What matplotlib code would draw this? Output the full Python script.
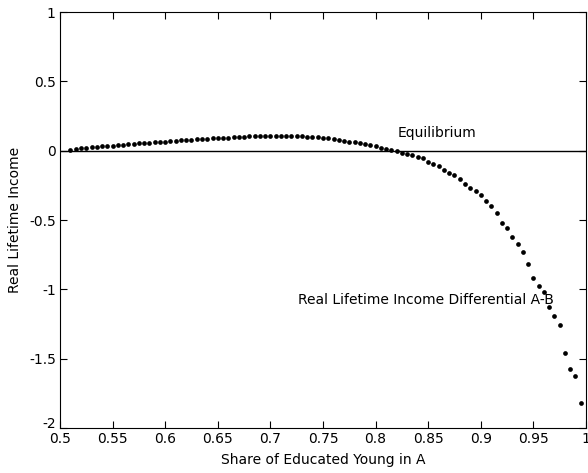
import matplotlib
matplotlib.use("Agg")
import matplotlib.pyplot as plt
from matplotlib.ticker import FormatStrFormatter
import numpy as np

plt.rcParams["font.family"] = ["DejaVu Sans"]
plt.rcParams["axes.unicode_minus"] = False

# share of educated young in A (step 0.005)
share = np.round(np.arange(0.51, 0.9951, 0.005), 3)

# income differential A-B
diff = [
    0.008, 0.015, 0.018, 0.022, 0.025, 0.028, 0.032, 0.034, 0.037, 0.041,
    0.043, 0.046, 0.049, 0.052, 0.054, 0.057, 0.061, 0.063, 0.066, 0.068,
    0.072, 0.075, 0.077, 0.080, 0.082, 0.085, 0.086, 0.089, 0.091, 0.093,
    0.095, 0.097, 0.099, 0.101, 0.103, 0.104, 0.106, 0.107, 0.108, 0.108,
    0.108, 0.108, 0.107, 0.106, 0.104, 0.102, 0.099, 0.096, 0.092, 0.088,
    0.083, 0.078, 0.072, 0.066, 0.060, 0.053, 0.046, 0.039, 0.031, 0.023,
    0.014, 0.006, -0.003, -0.013, -0.023, -0.033, -0.044,
    -0.055, -0.079, -0.098, -0.110, -0.139, -0.159, -0.175, -0.206, -0.242,
    -0.267, -0.291, -0.319, -0.360, -0.398, -0.451, -0.519, -0.555, -0.620,
    -0.673, -0.733, -0.819, -0.916, -0.975, -1.021, -1.129, -1.190, -1.259,
    -1.461, -1.572, -1.624, -1.819,
]

xticks = [0.5, 0.55, 0.6, 0.65, 0.7, 0.75, 0.8, 0.85, 0.9, 0.95, 1]
yticks = [-2, -1.5, -1, -0.5, 0, 0.5, 1]

fig = plt.figure(figsize=(5.88, 4.73), dpi=100)
ax = fig.add_axes([0.102, 0.095, 0.8946, 0.8796])

ax.axhline(0, color="black", lw=1.0)
ax.plot(share[:len(diff)], diff, "o", color="black", ms=3.4, mew=0)

ax.text(0.8205, 0.1, "Equilibrium", fontsize=10)
ax.text(0.726, -1.075, "Real Lifetime Income Differential A-B", fontsize=10, va="center")

ax.set_xlim(0.5, 1)
ax.set_ylim(-2, 1)
ax.set_xticks(xticks)
ax.set_yticks(yticks)
ax.xaxis.set_major_formatter(FormatStrFormatter("%g"))
ax.yaxis.set_major_formatter(FormatStrFormatter("%g"))
ax.tick_params(direction="in", length=5, width=0.8, top=True, right=True, labelsize=10, pad=3)
for s in ax.spines.values():
    s.set_linewidth(0.8)

# lift the bottom y label a little, like the original
ax.get_yticklabels()[0].set_va("baseline")

ax.set_xlabel("Share of Educated Young in A", fontsize=10, labelpad=5)
ax.set_ylabel("Real Lifetime Income", fontsize=10, labelpad=5)

fig.savefig("out.png", dpi=100)
